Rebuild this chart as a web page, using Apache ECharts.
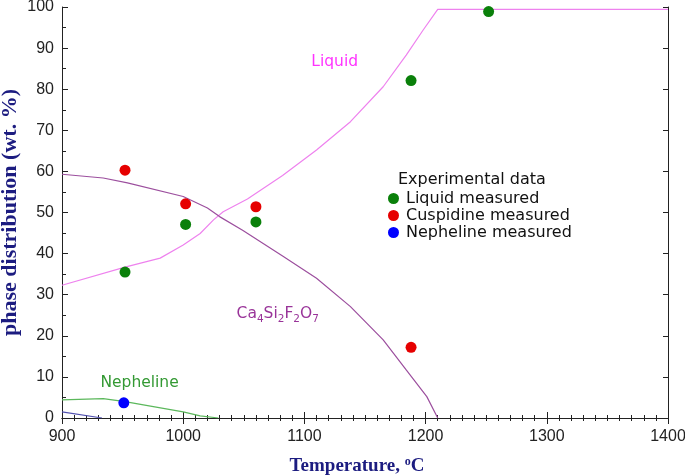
<!DOCTYPE html>
<html>
<head>
<meta charset="utf-8">
<script src="https://cdn.jsdelivr.net/npm/echarts@6/dist/echarts.min.js"></script>
<style>html,body{margin:0;padding:0;background:#fff}#c{width:685px;height:476px}</style>
</head>
<body>
<div id="c"></div>
<script>
// Calculated phase curves (Temperature in °C, wt. %)
var liquidT = [900, 952, 981, 1000, 1014, 1025, 1033, 1053, 1082, 1110, 1138, 1165, 1184, 1198, 1210, 1400];
var liquidY = [32.3, 36.7, 38.9, 42.1, 44.9, 48.2, 50.2, 53.3, 59.0, 65.2, 72.1, 80.6, 88.3, 94.4, 99.4, 99.4];
var caT = [900, 934, 954, 1000, 1020, 1030, 1049, 1082, 1110, 1138, 1165, 1184, 1201, 1210];
var caY = [59.3, 58.4, 57.2, 53.9, 51.1, 49.0, 45.7, 39.4, 34.0, 27.1, 19.0, 11.7, 5.2, 0];
var nephT = [900, 934, 952, 973, 1000, 1014, 1029];
var nephY = [4.4, 4.7, 4.0, 2.9, 1.5, 0.5, 0];
var otherT = [900, 933];
var otherY = [1.5, 0];
// Experimental data
var liqMeasT = [952, 1002, 1060, 1188, 1252];
var liqMeasY = [35.5, 47.1, 47.7, 82.1, 98.9];
var cuspMeasT = [952, 1002, 1060, 1188];
var cuspMeasY = [60.3, 52.1, 51.4, 17.2];
var nephMeasT = [951];
var nephMeasY = [3.7];
// Curve labels (anchor in data coordinates)
var curveLabels = ['Liquid', '{n|Ca}{s|4}{n|Si}{s|2}{n|F}{s|2}{n|O}{s|7}', 'Nepheline'];
var curveLabelT = [1125, 1078, 964];
var curveLabelY = [86.6, 25.3, 8.5];
var curveLabelColors = ['#ff00ff', '#800080', '#008000'];

function zip(a, b) { return a.map(function (v, i) { return [v, b[i]]; }); }

var chart = echarts.init(document.getElementById('c'), null, {renderer: 'canvas'});
var sans = 'Liberation Sans, Arial, sans-serif';
var wide = 'DejaVu Sans, Verdana, sans-serif';
var serif = 'Liberation Serif, Times New Roman, serif';
var tickFont = {fontFamily: sans, fontSize: 16, color: '#222'};
var titleColor = '#1c1c80';

var labelSeries = curveLabels.map(function (txt, i) {
  return {
    type: 'scatter', name: 'lab' + i, symbolSize: 0, silent: true,
    data: [[curveLabelT[i], curveLabelY[i]]],
    label: {
      show: true, position: 'inside', formatter: txt,
      fontFamily: wide, fontSize: 15.5, color: curveLabelColors[i],
      rich: {
        n: {fontSize: 15.5, color: curveLabelColors[i], fontFamily: wide},
        s: {fontSize: 10.5, color: curveLabelColors[i], padding: [10, 0, 0, 0], fontFamily: wide}
      }
    }
  };
});

var option = {
  animation: false,
  grid: {left: 62, right: 17, top: 7, bottom: 58, containLabel: false, outerBoundsMode: 'none'},
  legend: {
    data: ['Liquid measured', 'Cuspidine measured', 'Nepheline measured'],
    orient: 'vertical', left: 383, top: 185, itemGap: 0,
    itemWidth: 11, itemHeight: 11, icon: 'circle',
    textStyle: {fontFamily: wide, fontSize: 16, color: '#111', lineHeight: 17, padding: [0, 0, 0, 2]}
  },
  graphic: [{
    type: 'text', left: 398, top: 172,
    style: {text: 'Experimental data', font: '16px "DejaVu Sans", Verdana, sans-serif', fill: '#111'}
  }],
  xAxis: [{
    type: 'value', min: 900, max: 1400, interval: 100, position: 'bottom',
    axisLine: {lineStyle: {color: '#222', width: 1}},
    axisTick: {inside: true, length: 6, lineStyle: {color: '#222'}},
    minorTick: {show: true, splitNumber: 10, length: 3, lineStyle: {color: '#222'}},
    splitLine: {show: false},
    axisLabel: Object.assign({margin: 11, formatter: function (v) { return String(v); }}, tickFont),
    name: 'Temperature, {sup|o}C', nameLocation: 'middle', nameGap: 38, nameMoveOverlap: false,
    nameTextStyle: {fontFamily: serif, fontWeight: 'bold', fontSize: 19, color: titleColor, padding: [0, 16, 0, 0],
      rich: {sup: {fontSize: 12, fontWeight: 'bold', color: titleColor, fontFamily: serif, padding: [0, 0, 9, 0]}}}
  }, {
    type: 'value', min: 900, max: 1400, interval: 100, position: 'top',
    axisLine: {lineStyle: {color: '#222', width: 1}},
    axisTick: {inside: true, length: 6, lineStyle: {color: '#222'}},
    minorTick: {show: true, splitNumber: 10, length: 3, lineStyle: {color: '#222'}},
    splitLine: {show: false}, axisLabel: {show: false}
  }],
  yAxis: [{
    type: 'value', min: 0, max: 100, interval: 10, position: 'left',
    axisLine: {show: true, lineStyle: {color: '#222', width: 1}},
    axisTick: {show: true, inside: true, length: 6, lineStyle: {color: '#222'}},
    minorTick: {show: true, splitNumber: 2, length: 4, lineStyle: {color: '#222'}},
    splitLine: {show: false},
    axisLabel: Object.assign({margin: 8}, tickFont),
    name: 'phase distribution (wt. %)', nameLocation: 'middle', nameGap: 41, nameRotate: 90, nameMoveOverlap: false,
    nameTextStyle: {fontFamily: serif, fontWeight: 'bold', fontSize: 22, color: titleColor}
  }, {
    type: 'value', min: 0, max: 100, interval: 10, position: 'right',
    axisLine: {show: true, lineStyle: {color: '#222', width: 1}},
    axisTick: {show: true, inside: true, length: 5, lineStyle: {color: '#222'}},
    splitLine: {show: false}, axisLabel: {show: false}
  }],
  series: [
    {type: 'line', name: 'Liquid', data: zip(liquidT, liquidY), showSymbol: false, smooth: false,
      lineStyle: {color: '#ee82ee', width: 1.2}, z: 2},
    {type: 'line', name: 'Ca4Si2F2O7', data: zip(caT, caY), showSymbol: false, smooth: false,
      lineStyle: {color: '#9c4f9e', width: 1.2}, z: 2},
    {type: 'line', name: 'Nepheline', data: zip(nephT, nephY), showSymbol: false, smooth: false,
      lineStyle: {color: '#5cb85c', width: 1.2}, z: 2},
    {type: 'line', name: 'other', data: zip(otherT, otherY), showSymbol: false,
      lineStyle: {color: '#5050b0', width: 1.2}, z: 2},
    {type: 'scatter', name: 'Liquid measured', data: zip(liqMeasT, liqMeasY), symbolSize: 11,
      itemStyle: {color: '#0a800a', opacity: 1}, z: 5},
    {type: 'scatter', name: 'Cuspidine measured', data: zip(cuspMeasT, cuspMeasY), symbolSize: 11,
      itemStyle: {color: '#e60000', opacity: 1}, z: 5},
    {type: 'scatter', name: 'Nepheline measured', data: zip(nephMeasT, nephMeasY), symbolSize: 11,
      itemStyle: {color: '#0000ff', opacity: 1}, z: 5}
  ].concat(labelSeries)
};
chart.setOption(option);
</script>
</body>
</html>
